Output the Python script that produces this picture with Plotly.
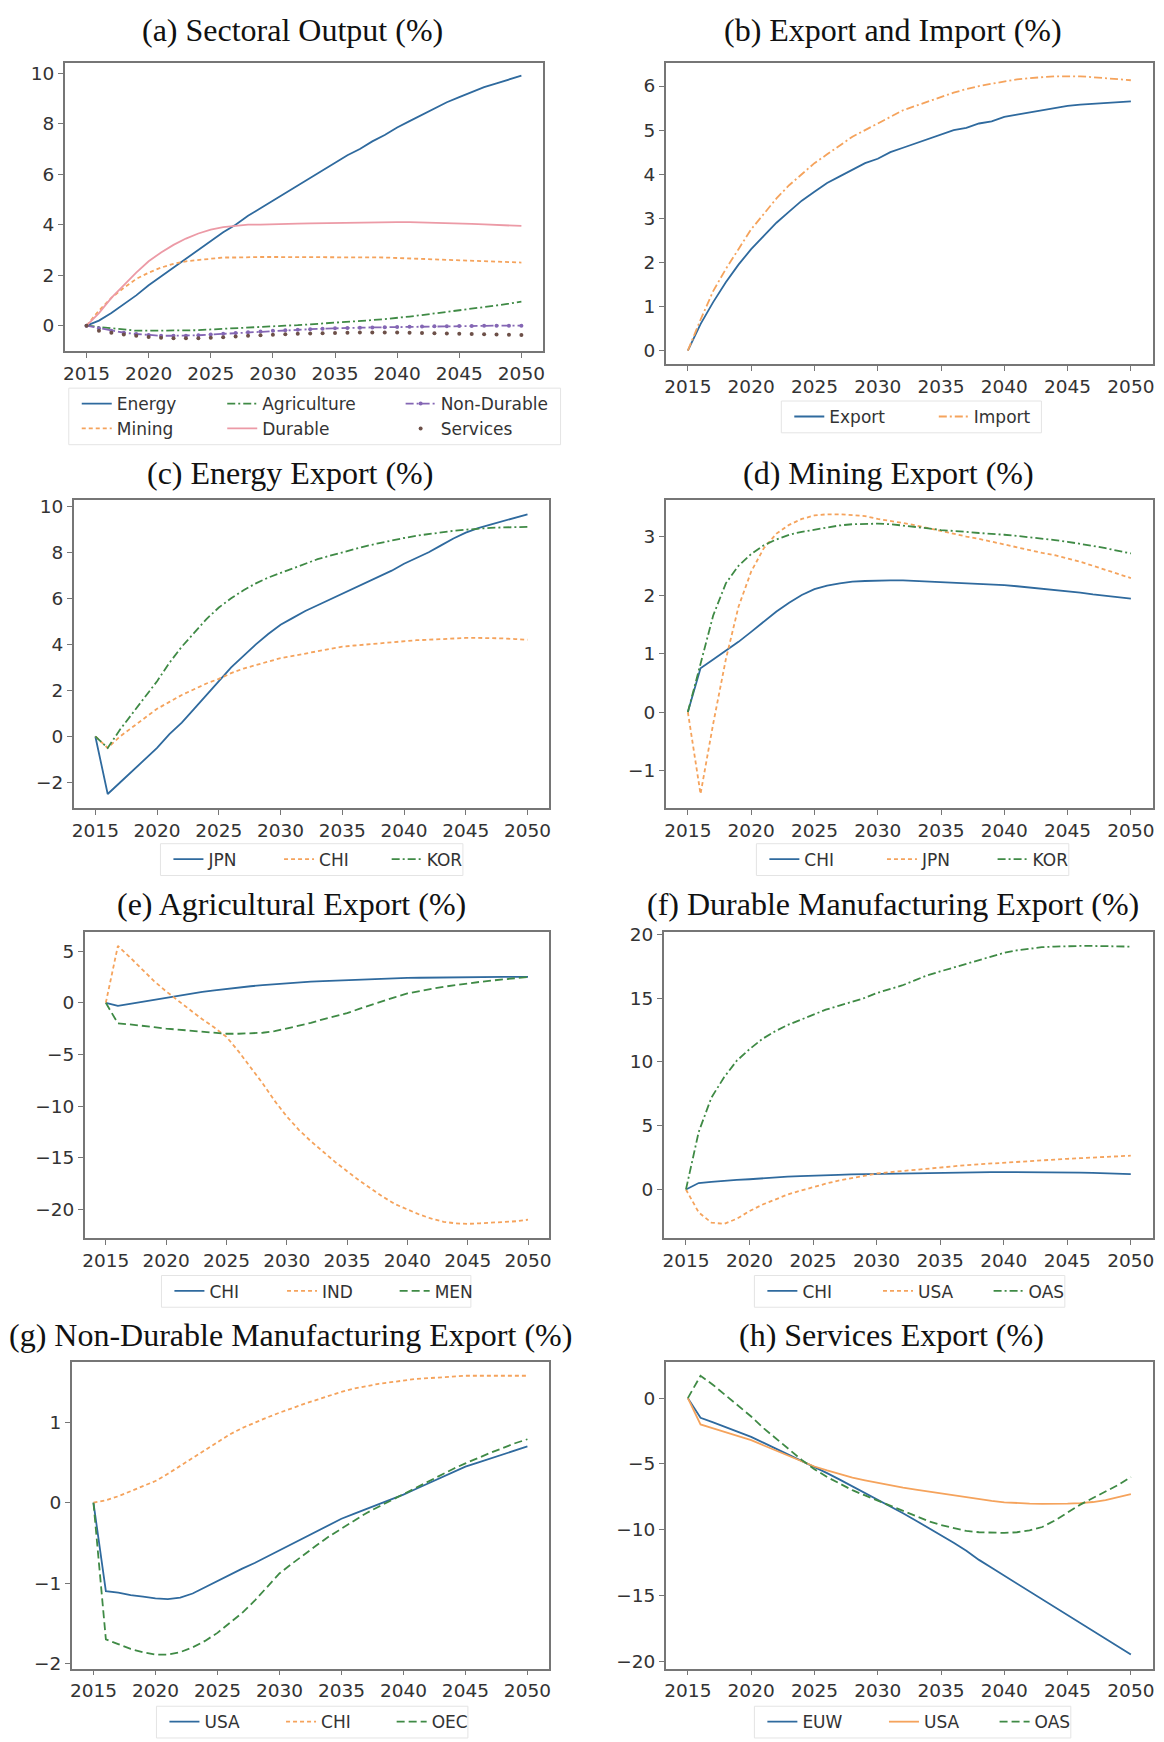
import plotly.graph_objects as go

W, H = 1164, 1742

YEARS = list(range(2015, 2051))
X_TICKS = [2015, 2020, 2025, 2030, 2035, 2040, 2045, 2050]

# (a) Sectoral Output (%)
A_ENERGY = [0, 0.2, 0.5, 0.85, 1.2, 1.6, 1.95, 2.3, 2.65, 3.0, 3.35, 3.7, 4.0, 4.35, 4.65, 4.95, 5.25, 5.55, 5.85, 6.15,
            6.45, 6.75, 7.0, 7.3, 7.55, 7.85, 8.1, 8.35, 8.6, 8.85, 9.05, 9.25, 9.45, 9.6, 9.75, 9.9]
A_MINING = [0, 0.6, 1.1, 1.5, 1.85, 2.1, 2.3, 2.45, 2.55, 2.6, 2.65, 2.7, 2.7, 2.72, 2.72, 2.72, 2.72, 2.72, 2.72, 2.72,
            2.72, 2.72, 2.7, 2.7, 2.7, 2.68, 2.66, 2.64, 2.62, 2.6, 2.58, 2.56, 2.54, 2.52, 2.5, 2.5]
A_AGRICULTURE = [0, -0.05, -0.1, -0.15, -0.2, -0.2, -0.2, -0.2, -0.2, -0.18, -0.15, -0.12, -0.1, -0.08, -0.05, -0.02,
                 0.0, 0.02, 0.05, 0.08, 0.1, 0.14, 0.18, 0.22, 0.26, 0.3, 0.36, 0.42, 0.48, 0.54, 0.6, 0.66, 0.72,
                 0.8, 0.87, 0.95]
A_DURABLE = [0, 0.5, 1.1, 1.6, 2.1, 2.55, 2.9, 3.2, 3.45, 3.65, 3.8, 3.9, 3.95, 4.0, 4.0, 4.02, 4.03, 4.04, 4.05, 4.06,
             4.07, 4.08, 4.09, 4.1, 4.1, 4.1, 4.1, 4.09, 4.08, 4.07, 4.05, 4.03, 4.01, 3.99, 3.97, 3.95]
A_NONDURABLE = [0, -0.1, -0.2, -0.28, -0.33, -0.37, -0.4, -0.4, -0.4, -0.38, -0.35, -0.32, -0.29, -0.26, -0.23, -0.2,
                -0.18, -0.16, -0.14, -0.12, -0.1, -0.09, -0.08, -0.07, -0.06, -0.05, -0.04, -0.03, -0.02, -0.02,
                -0.01, -0.01, 0.0, 0.0, 0.0, 0.0]
A_SERVICES = [0, -0.2, -0.28, -0.35, -0.4, -0.45, -0.48, -0.5, -0.5, -0.5, -0.48, -0.46, -0.43, -0.4, -0.38, -0.36,
              -0.34, -0.32, -0.31, -0.3, -0.29, -0.28, -0.27, -0.27, -0.27, -0.27, -0.28, -0.29, -0.3, -0.31, -0.32,
              -0.33, -0.34, -0.35, -0.36, -0.37]

# (b) Export and Import (%)
B_EXPORT = [0, 0.6, 1.1, 1.55, 1.95, 2.3, 2.6, 2.9, 3.15, 3.4, 3.6, 3.8, 3.95, 4.1, 4.25, 4.35, 4.5, 4.6, 4.7, 4.8,
            4.9, 5.0, 5.05, 5.15, 5.2, 5.3, 5.35, 5.4, 5.45, 5.5, 5.55, 5.58, 5.6, 5.62, 5.63, 5.65]
B_IMPORT = [0, 0.7, 1.35, 1.85, 2.3, 2.75, 3.1, 3.45, 3.75, 4.0, 4.25, 4.45, 4.65, 4.85, 5.0, 5.15, 5.3, 5.45, 5.55,
            5.65, 5.75, 5.85, 5.93, 6.0, 6.05, 6.1, 6.15, 6.18, 6.2, 6.22, 6.22, 6.22, 6.2, 6.18, 6.15, 6.13]

# (c) Energy Export (%)
C_JPN = [0, -2.5, -2.0, -1.5, -1.0, -0.5, 0.1, 0.6, 1.2, 1.8, 2.4, 3.0, 3.5, 4.0, 4.45, 4.85, 5.15, 5.45, 5.7, 5.95,
         6.2, 6.45, 6.7, 6.95, 7.2, 7.5, 7.75, 8.0, 8.3, 8.6, 8.85, 9.05, 9.2, 9.35, 9.5, 9.65]
C_CHI = [0, -0.5, 0.0, 0.4, 0.8, 1.2, 1.5, 1.8, 2.05, 2.3, 2.5, 2.75, 2.95, 3.1, 3.25, 3.4, 3.5, 3.6, 3.7, 3.8,
         3.9, 3.95, 4.0, 4.05, 4.1, 4.15, 4.18, 4.2, 4.23, 4.25, 4.28, 4.28, 4.28, 4.26, 4.23, 4.2]
C_KOR = [0, -0.5, 0.3, 1.0, 1.7, 2.4, 3.2, 3.9, 4.5, 5.1, 5.6, 6.0, 6.35, 6.65, 6.9, 7.1, 7.3, 7.5, 7.7, 7.85,
         8.0, 8.15, 8.28, 8.4, 8.52, 8.62, 8.72, 8.8, 8.87, 8.93, 8.98, 9.03, 9.06, 9.08, 9.1, 9.1]

# (d) Mining Export (%)
D_CHI = [0, 0.75, 0.9, 1.05, 1.2, 1.37, 1.55, 1.72, 1.87, 2.0, 2.1, 2.16, 2.2, 2.23, 2.24, 2.25, 2.25, 2.25, 2.24,
         2.24, 2.23, 2.22, 2.21, 2.2, 2.19, 2.17, 2.15, 2.13, 2.11, 2.09, 2.06, 2.04, 2.01, 1.99, 1.96, 1.94]
D_JPN = [0, -1.4, -0.2, 0.9, 1.8, 2.4, 2.8, 3.05, 3.2, 3.3, 3.36, 3.38, 3.38, 3.37, 3.35, 3.3, 3.27, 3.23, 3.19, 3.14,
         3.09, 3.05, 3.0, 2.96, 2.91, 2.86, 2.82, 2.77, 2.72, 2.68, 2.63, 2.57, 2.5, 2.43, 2.36, 2.29]
D_KOR = [0, 0.85, 1.65, 2.2, 2.5, 2.7, 2.85, 2.95, 3.03, 3.08, 3.12, 3.16, 3.19, 3.21, 3.22, 3.22, 3.21, 3.19, 3.17,
         3.14, 3.11, 3.1, 3.08, 3.06, 3.05, 3.03, 3.01, 2.99, 2.96, 2.94, 2.91, 2.88, 2.84, 2.8, 2.76, 2.71]

# (e) Agricultural Export (%)
E_CHI = [0, -0.3, -0.1, 0.1, 0.3, 0.5, 0.7, 0.9, 1.05, 1.2, 1.35, 1.5, 1.6, 1.7, 1.8, 1.9, 2.0, 2.05, 2.1, 2.15,
         2.2, 2.25, 2.3, 2.33, 2.36, 2.4, 2.42, 2.44, 2.46, 2.48, 2.5, 2.5, 2.5, 2.5, 2.5, 2.5]
E_IND = [0, 5.5, 4.4, 3.2, 2.1, 1.1, 0.2, -0.7, -1.6, -2.4, -3.3, -4.7, -6.2, -7.8, -9.5, -11.0, -12.3, -13.4, -14.4,
         -15.4, -16.3, -17.2, -18.0, -18.8, -19.5, -20.0, -20.5, -20.9, -21.2, -21.35, -21.4, -21.35, -21.3, -21.25,
         -21.15, -21.0]
E_MEN = [0, -2.0, -2.1, -2.2, -2.35, -2.5, -2.6, -2.7, -2.8, -2.9, -3.0, -3.0, -2.97, -2.9, -2.75, -2.5, -2.25, -1.95,
         -1.6, -1.3, -1.0, -0.6, -0.2, 0.2, 0.55, 0.9, 1.15, 1.35, 1.55, 1.72, 1.88, 2.02, 2.15, 2.28, 2.4, 2.5]

# (f) Durable Manufacturing Export (%)
F_CHI = [0, 0.5, 0.6, 0.7, 0.75, 0.8, 0.88, 0.95, 1.0, 1.05, 1.1, 1.12, 1.15, 1.18, 1.2, 1.23, 1.25, 1.28, 1.3, 1.32,
         1.33, 1.34, 1.35, 1.35, 1.36, 1.36, 1.36, 1.36, 1.36, 1.35, 1.34, 1.32, 1.3, 1.27, 1.24, 1.2]
F_USA = [0, -1.8, -2.6, -2.7, -2.3, -1.7, -1.2, -0.8, -0.4, -0.1, 0.2, 0.45, 0.7, 0.9, 1.1, 1.25, 1.35, 1.45, 1.55,
         1.65, 1.75, 1.82, 1.9, 1.97, 2.04, 2.1, 2.17, 2.23, 2.29, 2.35, 2.4, 2.45, 2.5, 2.55, 2.6, 2.65]
F_OAS = [0, 4.5, 7.2, 8.8, 10.1, 11.0, 11.8, 12.4, 12.9, 13.3, 13.7, 14.1, 14.4, 14.7, 15.0, 15.4, 15.7, 16.0, 16.4,
         16.8, 17.1, 17.4, 17.7, 18.0, 18.3, 18.55, 18.75, 18.9, 19.0, 19.05, 19.1, 19.1, 19.1, 19.1, 19.1, 19.05]

# (g) Non-Durable Manufacturing Export (%)
G_USA = [0, -1.1, -1.12, -1.15, -1.17, -1.19, -1.2, -1.18, -1.13, -1.05, -0.97, -0.9, -0.82, -0.75, -0.67, -0.6,
         -0.52, -0.44, -0.36, -0.28, -0.2, -0.14, -0.08, -0.02, 0.04, 0.1, 0.17, 0.24, 0.31, 0.38, 0.45, 0.5, 0.55,
         0.6, 0.65, 0.7]
G_CHI = [0, 0.03, 0.08, 0.14, 0.2, 0.27, 0.36, 0.46, 0.56, 0.66, 0.76, 0.85, 0.93, 1.0, 1.06, 1.12, 1.18, 1.23, 1.28,
         1.33, 1.38, 1.42, 1.45, 1.48, 1.5, 1.52, 1.54, 1.55, 1.56, 1.57, 1.58, 1.58, 1.58, 1.58, 1.58, 1.58]
G_OEC = [0, -1.7, -1.76, -1.82, -1.86, -1.89, -1.89, -1.86, -1.8, -1.72, -1.62, -1.5, -1.37, -1.22, -1.05, -0.88,
         -0.76, -0.64, -0.53, -0.42, -0.32, -0.22, -0.13, -0.05, 0.03, 0.1, 0.18, 0.26, 0.34, 0.42, 0.49, 0.56, 0.62,
         0.68, 0.74, 0.79]

# (h) Services Export (%)
H_EUW = [0, -1.5, -1.85, -2.2, -2.55, -2.95, -3.4, -3.85, -4.3, -4.75, -5.25, -5.7, -6.2, -6.7, -7.2, -7.7, -8.2,
         -8.75, -9.3, -9.85, -10.4, -11.0, -11.6, -12.3, -12.9, -13.5, -14.1, -14.7, -15.3, -15.9, -16.5, -17.1,
         -17.7, -18.3, -18.9, -19.5]
H_USA = [0, -2.0, -2.3, -2.6, -2.9, -3.2, -3.6, -4.0, -4.4, -4.8, -5.2, -5.5, -5.8, -6.05, -6.25, -6.45, -6.65, -6.8,
         -6.95, -7.1, -7.25, -7.4, -7.55, -7.7, -7.82, -7.92, -7.98, -8.02, -8.04, -8.04, -8.02, -7.98, -7.9, -7.75,
         -7.55, -7.3]
H_OAS = [0, 1.7, 1.0, 0.2, -0.6, -1.4, -2.3, -3.1, -3.9, -4.7, -5.4, -6.0, -6.5, -7.0, -7.4, -7.8, -8.2, -8.6, -9.0,
         -9.35, -9.65, -9.9, -10.1, -10.2, -10.25, -10.25, -10.2, -10.05, -9.8, -9.3, -8.7, -8.1, -7.6, -7.1, -6.6,
         -6.0]

# ---------------------------------------------------------------- styling
BLUE, ORANGE, GREEN = "#2f6a9e", "#f5a35c", "#3f8a45"
RED, PURPLE, BROWN = "#ec9aa6", "#8466b4", "#6d5048"
SOLID = "solid"
DASHED = "4px,3px"
LONGDASH = "8px,4px"
DASHDOT = "8px,3px,2px,3px"

SERIF = "Liberation Serif, Times New Roman, serif"
SANS = "DejaVu Sans, sans-serif"

# series entries: (name, values, color, dash, mode, legend text x px, legend y px)
PANELS = [
    dict(title="(a) Sectoral Output (%)", box=(63, 543, 55, 346), yticks=[0, 2, 4, 6, 8, 10], cx=292, ty=22,
         series=[("Energy", A_ENERGY, BLUE, SOLID, "lines", 112, 399),
                 ("Mining", A_MINING, ORANGE, DASHED, "lines", 112, 424),
                 ("Agriculture", A_AGRICULTURE, GREEN, DASHDOT, "lines", 258, 399),
                 ("Durable", A_DURABLE, RED, SOLID, "lines", 258, 424),
                 ("Non-Durable", A_NONDURABLE, PURPLE, DASHDOT, "lines+markers", 437, 399),
                 ("Services", A_SERVICES, BROWN, SOLID, "markers", 437, 424)]),
    dict(title="(b) Export and Import (%)", box=(666, 1155, 55, 359), yticks=[0, 1, 2, 3, 4, 5, 6], cx=894, ty=22,
         series=[("Export", B_EXPORT, BLUE, SOLID, "lines", 827, 412),
                 ("Import", B_IMPORT, ORANGE, DASHDOT, "lines", 972, 412)]),
    dict(title="(c) Energy Export (%)", box=(72, 549, 496, 806), yticks=[-2, 0, 2, 4, 6, 8, 10], cx=289, ty=468,
         series=[("JPN", C_JPN, BLUE, SOLID, "lines", 204, 858),
                 ("CHI", C_CHI, ORANGE, DASHED, "lines", 315, 858),
                 ("KOR", C_KOR, GREEN, DASHDOT, "lines", 423, 858)]),
    dict(title="(d) Mining Export (%)", box=(666, 1155, 496, 806), yticks=[-1, 0, 1, 2, 3], cx=890, ty=468,
         series=[("CHI", D_CHI, BLUE, SOLID, "lines", 802, 858),
                 ("JPN", D_JPN, ORANGE, DASHED, "lines", 920, 858),
                 ("KOR", D_KOR, GREEN, DASHDOT, "lines", 1031, 858)]),
    dict(title="(e) Agricultural Export (%)", box=(83, 549, 931, 1239), yticks=[-20, -15, -10, -5, 0, 5], cx=290,
         ty=903,
         series=[("CHI", E_CHI, BLUE, SOLID, "lines", 205, 1293),
                 ("IND", E_IND, ORANGE, DASHED, "lines", 318, 1293),
                 ("MEN", E_MEN, GREEN, LONGDASH, "lines", 431, 1293)]),
    dict(title="(f) Durable Manufacturing Export (%)", box=(664, 1155, 931, 1239), yticks=[0, 5, 10, 15, 20], cx=894,
         ty=903,
         series=[("CHI", F_CHI, BLUE, SOLID, "lines", 800, 1293),
                 ("USA", F_USA, ORANGE, DASHED, "lines", 916, 1293),
                 ("OAS", F_OAS, GREEN, DASHDOT, "lines", 1027, 1293)]),
    dict(title="(g) Non-Durable Manufacturing Export (%)", box=(70, 549, 1364, 1673), yticks=[-2, -1, 0, 1], cx=289,
         ty=1337,
         series=[("USA", G_USA, BLUE, SOLID, "lines", 200, 1727),
                 ("CHI", G_CHI, ORANGE, DASHED, "lines", 317, 1727),
                 ("OEC", G_OEC, GREEN, LONGDASH, "lines", 428, 1727)]),
    dict(title="(h) Services Export (%)", box=(666, 1155, 1364, 1673), yticks=[-20, -15, -10, -5, 0], cx=893,
         ty=1337,
         series=[("EUW", H_EUW, BLUE, SOLID, "lines", 800, 1727),
                 ("USA", H_USA, ORANGE, SOLID, "lines", 922, 1727),
                 ("OAS", H_OAS, GREEN, LONGDASH, "lines", 1033, 1727)]),
]

fig = go.Figure()
layout = dict(
    width=W, height=H, margin=dict(l=0, r=0, t=0, b=0), showlegend=True,
    paper_bgcolor="white", plot_bgcolor="white", annotations=[], shapes=[],
)

AXIS_COLOR = "#767676"
TICK_FONT = dict(family=SANS, size=18.5, color="#333333")
LEG_FONT = dict(family=SANS, size=17, color="#333333")
TEXT_OFFSET = 37  # px from legend left edge to entry text

legend_count = 0
for i, p in enumerate(PANELS):
    n = i + 1
    xa = "xaxis" if n == 1 else f"xaxis{n}"
    ya = "yaxis" if n == 1 else f"yaxis{n}"
    xr = "x" if n == 1 else f"x{n}"
    yr = "y" if n == 1 else f"y{n}"
    l, r, t, b = p["box"]

    all_vals = [v for s in p["series"] for v in s[1]]
    lo, hi = min(all_vals), max(all_vals)
    pad = 0.05 * (hi - lo)
    span_x = YEARS[-1] - YEARS[0]

    common = dict(ticks="outside", ticklen=5, tickwidth=1.2, tickcolor=AXIS_COLOR, showline=True, mirror=True,
                  linecolor=AXIS_COLOR, linewidth=1.5, showgrid=False, zeroline=False, tickfont=TICK_FONT)
    layout[xa] = dict(domain=[l / W, r / W], anchor=yr,
                      range=[YEARS[0] - 0.05 * span_x, YEARS[-1] + 0.05 * span_x], tickvals=X_TICKS, **common)
    layout[ya] = dict(domain=[1 - b / H, 1 - t / H], anchor=xr, range=[lo - pad, hi + pad],
                      tickvals=p["yticks"], **common)
    layout["annotations"].append(dict(
        text=p["title"], xref="paper", yref="paper", x=p["cx"] / W, y=1 - p["ty"] / H,
        xanchor="center", yanchor="middle", showarrow=False,
        font=dict(family=SERIF, size=32, color="#111111"),
    ))

    # faint legend frame
    txs = [s[5] for s in p["series"]]
    tys = [s[6] for s in p["series"]]
    longest = max(len(s[0]) for s in p["series"] if s[5] == max(txs))
    layout["shapes"].append(dict(
        type="rect", xref="paper", yref="paper", layer="below",
        x0=(min(txs) - TEXT_OFFSET - 8) / W, x1=(max(txs) + longest * 10.5 + 8) / W,
        y0=1 - (max(tys) + 16) / H, y1=1 - (min(tys) - 16) / H,
        line=dict(color="#e4e4e4", width=1), fillcolor="rgba(255,255,255,0)",
    ))

    for name, vals, color, dash, mode, tx, ty in p["series"]:
        legend_count += 1
        lid = "legend" if legend_count == 1 else f"legend{legend_count}"
        fig.add_trace(go.Scatter(
            x=YEARS, y=vals, name=name, mode=mode, xaxis=xr, yaxis=yr, legend=lid,
            line=dict(color=color, width=1.8, dash=dash),
            marker=dict(color=color, size=4),
        ))
        layout[lid] = dict(
            x=(tx - TEXT_OFFSET) / W, y=1 - ty / H, xanchor="left", yanchor="middle", orientation="v",
            font=LEG_FONT, bgcolor="rgba(0,0,0,0)", borderwidth=0, itemwidth=30,
            xref="paper", yref="paper", visible=True,
        )

fig.update_layout(**layout)

# place the plot flush with the page corner (no default body margin)
POST = ("document.body.style.margin='0';document.body.style.overflow='hidden';"
        "var gd=document.getElementById('{plot_id}');gd.style.position='absolute';"
        "gd.style.left='0px';gd.style.top='0px';")
fig.write_html("out.html", post_script=POST, config={"displayModeBar": False})
